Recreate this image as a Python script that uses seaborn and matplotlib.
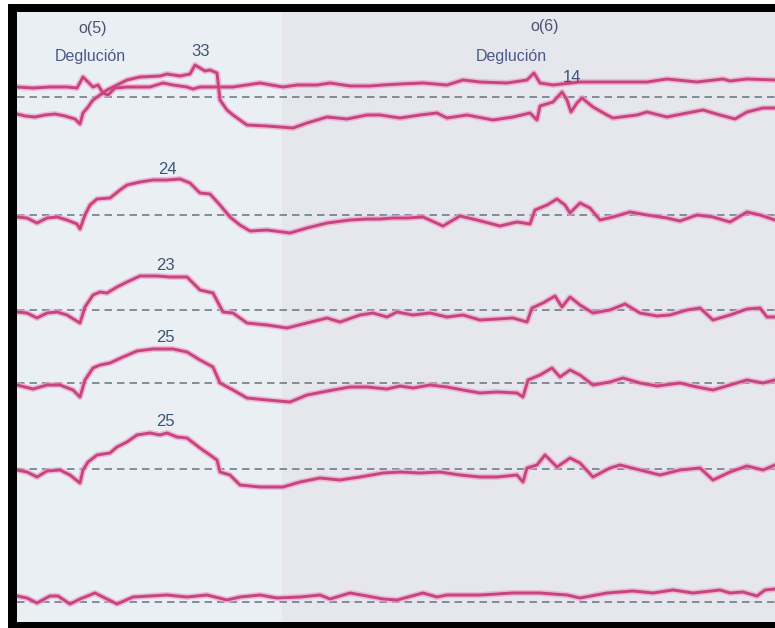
import numpy as np
import pandas as pd
import matplotlib
matplotlib.use("Agg")
import matplotlib.pyplot as plt
import seaborn as sns

# ---------------- data (time in samples, pressure relative to baseline) ----------------
ch1a_t = [17,25,35,45,55,65,75,80,83,88,93,100,107,117,127,140,160,167,180,190,
          195,200,205,210,217,220,227,233,247,267,293,307,327,347,367,380,400,420,437,447,
          467,493,513,530,537,540,553,562,567,571,577,582,593,607,613,637,647,667,687,703,
          720,735,747,763,775]
ch1a_p = [-17,-19,-20,-18,-17,-19,-22,-27,-16,-10,-3,2,7,12,17,20,21,23,21,23,
          32,29,26,27,24,-3,-13,-18,-28,-29,-31,-26,-20,-22,-18,-18,-21,-18,-16,-21,
          -18,-23,-20,-16,-23,-9,-5,5,-3,-15,-6,-1,-10,-18,-21,-18,-15,-20,-16,-13,
          -18,-22,-15,-11,-11]

ch1b_t = [17,33,50,67,77,83,88,93,98,103,108,115,127,150,163,173,187,193,200,233,
          260,283,297,317,330,350,370,383,400,423,447,463,480,507,527,534,540,553,580,613,
          647,667,697,723,730,747,775]
ch1b_p = [10,9,10,10,9,20,15,10,12,4,2,9,10,10,14,12,10,8,10,10,
          14,10,12,12,14,11,11,12,13,14,12,17,15,14,17,24,14,12,15,15,
          15,18,15,18,16,18,17]

ch2_t = [17,27,37,47,57,67,77,80,85,90,97,110,120,127,140,153,167,180,190,200,
         210,220,230,240,250,267,290,307,327,350,367,380,393,407,423,443,460,477,500,517,
         530,535,547,557,565,570,580,590,600,613,630,647,667,680,697,713,730,747,760,775]
ch2_p = [-2,-3,-8,-3,-2,-5,-9,-14,0,10,16,17,25,30,33,35,35,36,32,22,
         21,10,-2,-10,-16,-15,-18,-13,-8,-5,-4,-4,-3,-3,-2,-11,-1,-5,-11,-7,
         -9,5,10,16,10,2,12,7,-5,-2,3,0,-3,-6,0,-2,-7,3,0,-5]

ch3_t = [17,27,37,47,57,67,80,85,93,100,107,117,127,140,157,170,187,200,213,223,
         233,247,267,287,307,327,340,360,373,387,397,413,430,447,463,480,497,513,527,532,
         543,555,562,570,580,593,610,625,640,657,670,687,700,713,730,747,760,767,775]
ch3_p = [-2,-3,-8,-3,-2,-5,-13,3,15,18,17,23,28,34,34,33,33,20,17,-2,
         -3,-13,-15,-18,-13,-8,-12,-5,-3,-7,-2,-5,-3,-7,-5,-10,-9,-8,-12,2,
         7,14,3,13,5,-3,0,6,-3,-6,-5,0,2,-10,-5,1,2,-7,-7]

ch4_t = [17,33,47,60,73,80,85,93,100,110,123,137,153,173,187,200,213,220,233,247,
         267,290,307,333,350,367,387,400,413,430,447,463,480,497,517,523,528,540,552,560,
         570,580,593,610,623,640,657,680,697,713,730,747,763,775]
ch4_p = [-2,-6,-2,-2,-7,-14,3,15,18,20,26,32,34,34,31,23,16,0,-7,-15,
         -17,-19,-12,-7,-4,-4,-6,-3,-5,-2,-4,-7,-10,-9,-10,-14,3,8,15,6,
         13,8,-2,1,5,0,-3,0,-4,-7,-2,3,0,3]

ch5_t = [17,27,37,47,60,70,80,83,88,97,110,117,127,137,150,160,167,177,187,200,
         210,217,220,230,240,260,283,300,320,340,360,383,400,420,440,460,480,497,517,523,
         527,537,545,557,570,580,593,610,620,640,660,680,700,713,730,747,763,775]
ch5_p = [-1,-3,-8,-2,-1,-6,-14,-1,7,14,16,22,27,34,36,34,36,32,31,21,
         14,9,-3,-6,-16,-18,-18,-13,-9,-11,-8,-4,-3,-4,-3,-6,-8,-8,-6,-13,
         1,4,14,2,11,6,-8,1,4,-1,-6,-1,1,-11,-3,3,-1,4]

ch6_t = [17,27,37,50,58,70,80,95,107,117,133,150,167,187,207,227,240,260,277,300,
         320,330,350,367,383,397,423,437,447,480,513,540,567,580,607,633,653,673,693,720,
         730,743,757,765,775]
ch6_p = [6,4,-1,6,6,-2,3,9,3,-2,5,6,7,5,7,2,5,7,4,5,
         7,3,9,6,3,2,9,5,7,7,9,9,7,4,9,11,9,12,9,12,
         9,10,6,12,13]

swallow_labels = ["o(5)", "o(6)"]
swallow_text = "Deglución"
peak_labels = ["33", "14", "24", "23", "25", "25"]

# ---------------- layout ----------------
channel_offset = [525, 407, 312, 239, 153, 20]   # vertical placement of each channel
traces = [(0, ch1a_t, ch1a_p), (0, ch1b_t, ch1b_p), (1, ch2_t, ch2_p),
          (2, ch3_t, ch3_p), (3, ch4_t, ch4_p), (4, ch5_t, ch5_p), (5, ch6_t, ch6_p)]

rows = []
for k, (ch, t, p) in enumerate(traces):
    for ti, pi in zip(t, p):
        rows.append({"trace": k, "channel": ch, "time": ti, "pressure": pi,
                     "y": channel_offset[ch] + pi})
df = pd.DataFrame(rows)

sns.set_theme(style="white")
plt.rcParams["font.family"] = ["Liberation Sans", "DejaVu Sans"]

W, H = 775, 628
fig = plt.figure(figsize=(W / 100, H / 100), dpi=100, facecolor="white")
# black frame behind the chart
frame = fig.add_axes([8 / W, 0, 1 - 8 / W, (H - 4) / H])
frame.set_facecolor("black")
frame.set_xticks([]); frame.set_yticks([])
for s in frame.spines.values():
    s.set_visible(False)

ax = fig.add_axes([17 / W, 6 / H, (W - 17) / W, 610 / H])
ax.set_facecolor("#e7e9ef")
ax.set_xlim(17, 775)
ax.set_ylim(0, 610)
ax.axvspan(17, 282, color="#eaeff4", zorder=0, lw=0)
ax.axvspan(282, 775, color="#e6e6ed", zorder=0, lw=0)

for off in channel_offset:
    ax.axhline(off, color="#6f7d8c", lw=1.2, dashes=(4.5, 3), zorder=1)

for k in df["trace"].unique():
    d = df[df["trace"] == k]
    sns.lineplot(data=d, x="time", y="y", ax=ax, sort=False, estimator=None,
                 color="#eaa6c8", lw=4.4, alpha=0.7, zorder=2)
    sns.lineplot(data=d, x="time", y="y", ax=ax, sort=False, estimator=None,
                 color="#c8437f", lw=2.1, zorder=3)

txt_kw = dict(ha="center", va="center")
ax.text(93, 594, swallow_labels[0], color="#4a5470", fontsize=11.5, **txt_kw)
ax.text(90, 566, swallow_text, color="#4b5a8a", fontsize=11.5, **txt_kw)
ax.text(545, 595, swallow_labels[1], color="#4a5470", fontsize=11.5, **txt_kw)
ax.text(511, 566, swallow_text, color="#4b5a8a", fontsize=11.5, **txt_kw)
label_pos = [(201, 570), (572, 544), (167, 453), (165, 357), (165, 285), (165, 201)]
for lab, (lx, ly) in zip(peak_labels, label_pos):
    ax.text(lx, ly, lab, color="#3f5577", fontsize=12, **txt_kw)

ax.set_xlabel("")
ax.set_ylabel("")
ax.set_xticks([])
ax.set_yticks([])
for s in ax.spines.values():
    s.set_visible(False)

fig.savefig("out.png", dpi=100, facecolor="white")
